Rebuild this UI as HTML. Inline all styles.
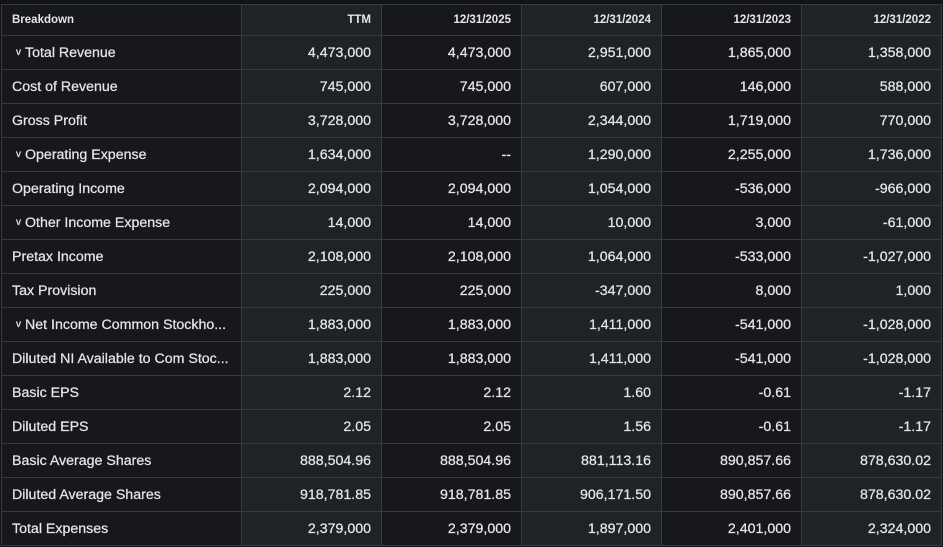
<!DOCTYPE html>
<html><head><style>
html,body{margin:0;padding:0;background:#111316;width:943px;height:547px;overflow:hidden}
table{position:absolute;left:1px;top:4px;width:940px;border-collapse:collapse;table-layout:fixed;font-family:"Liberation Sans",sans-serif;font-size:14.2px;color:#e6e6e6;-webkit-text-stroke:0.25px #e6e6e6}
td,th{border:1px solid #383b40;height:33px;padding:0 10px;white-space:nowrap;overflow:hidden}
th{height:30px;font-size:11.5px;font-weight:bold;text-align:right;-webkit-text-stroke:0}
th:first-child,td:first-child{text-align:left}
td{text-align:right}
tr>*:nth-child(odd){background:#16181c}
tr>*:nth-child(even){background:#1f2227}
.c{font-size:10px;margin:0 4px 0 4px;display:inline-block;position:relative;top:-2px}
</style></head><body>
<table>
<colgroup><col style="width:240px"><col style="width:140px"><col style="width:140px"><col style="width:140px"><col style="width:140px"><col style="width:140px"></colgroup>
<tr><th>Breakdown</th><th>TTM</th><th>12/31/2025</th><th>12/31/2024</th><th>12/31/2023</th><th>12/31/2022</th></tr>
<tr><td><span class="c">v</span>Total Revenue</td><td>4,473,000</td><td>4,473,000</td><td>2,951,000</td><td>1,865,000</td><td>1,358,000</td></tr>
<tr><td>Cost of Revenue</td><td>745,000</td><td>745,000</td><td>607,000</td><td>146,000</td><td>588,000</td></tr>
<tr><td>Gross Profit</td><td>3,728,000</td><td>3,728,000</td><td>2,344,000</td><td>1,719,000</td><td>770,000</td></tr>
<tr><td><span class="c">v</span>Operating Expense</td><td>1,634,000</td><td>--</td><td>1,290,000</td><td>2,255,000</td><td>1,736,000</td></tr>
<tr><td>Operating Income</td><td>2,094,000</td><td>2,094,000</td><td>1,054,000</td><td>-536,000</td><td>-966,000</td></tr>
<tr><td><span class="c">v</span>Other Income Expense</td><td>14,000</td><td>14,000</td><td>10,000</td><td>3,000</td><td>-61,000</td></tr>
<tr><td>Pretax Income</td><td>2,108,000</td><td>2,108,000</td><td>1,064,000</td><td>-533,000</td><td>-1,027,000</td></tr>
<tr><td>Tax Provision</td><td>225,000</td><td>225,000</td><td>-347,000</td><td>8,000</td><td>1,000</td></tr>
<tr><td><span class="c">v</span>Net Income Common Stockho...</td><td>1,883,000</td><td>1,883,000</td><td>1,411,000</td><td>-541,000</td><td>-1,028,000</td></tr>
<tr><td>Diluted NI Available to Com Stoc...</td><td>1,883,000</td><td>1,883,000</td><td>1,411,000</td><td>-541,000</td><td>-1,028,000</td></tr>
<tr><td>Basic EPS</td><td>2.12</td><td>2.12</td><td>1.60</td><td>-0.61</td><td>-1.17</td></tr>
<tr><td>Diluted EPS</td><td>2.05</td><td>2.05</td><td>1.56</td><td>-0.61</td><td>-1.17</td></tr>
<tr><td>Basic Average Shares</td><td>888,504.96</td><td>888,504.96</td><td>881,113.16</td><td>890,857.66</td><td>878,630.02</td></tr>
<tr><td>Diluted Average Shares</td><td>918,781.85</td><td>918,781.85</td><td>906,171.50</td><td>890,857.66</td><td>878,630.02</td></tr>
<tr><td>Total Expenses</td><td>2,379,000</td><td>2,379,000</td><td>1,897,000</td><td>2,401,000</td><td>2,324,000</td></tr>
</table>
</body></html>
